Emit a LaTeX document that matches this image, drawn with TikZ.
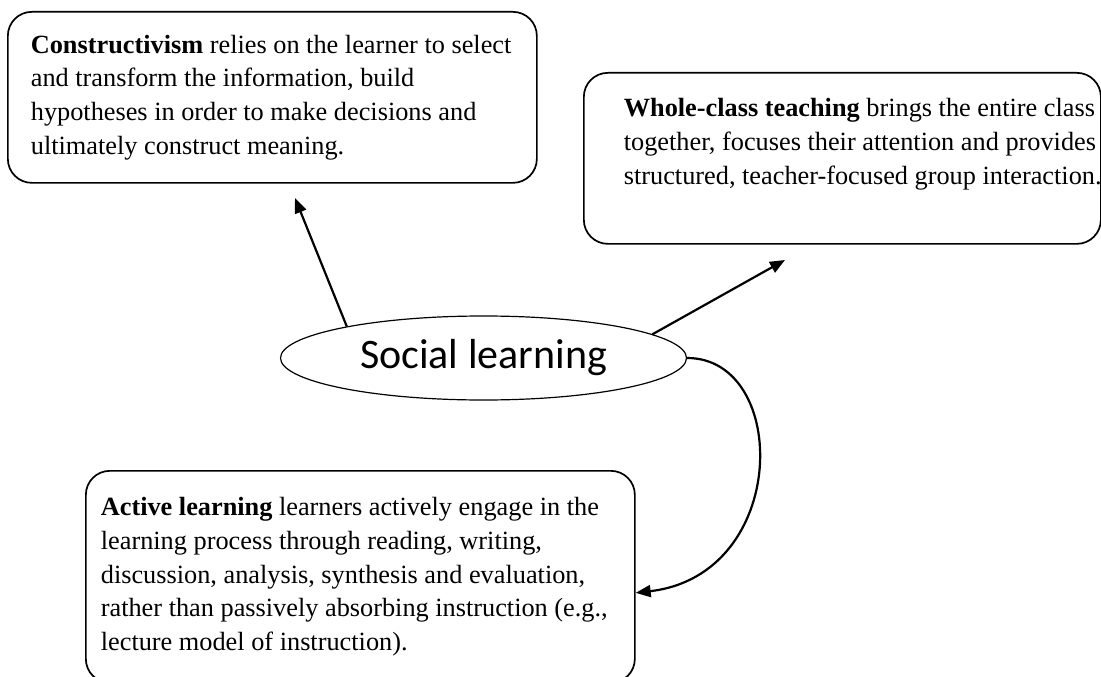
\documentclass[tikz,border=0pt]{standalone}
\usepackage{fontspec}
\setmainfont{Liberation Serif}
\newfontfamily\calibri{Carlito}
\usetikzlibrary{shapes.geometric,arrows.meta}

\begin{document}
\begin{tikzpicture}[x=1pt, y=-1pt,
  infobox/.style={draw, line width=1.7pt, rounded corners=24pt, align=flush left, anchor=north west, inner ysep=0pt, font=\fontsize{26.3}{33.75}\selectfont},
  topic/.style={draw, ellipse, line width=1.2pt, minimum width=406pt, minimum height=84pt, inner sep=0pt, font=\calibri\fontsize{42}{50}\selectfont},
  link/.style={line width=2.2pt, -{Triangle[length=15pt,width=12pt]}},
]
\useasboundingbox (0,0) rectangle (1101,677);
\node[infobox, text width=483pt, inner xsep=23pt, minimum height=171pt] (construct) at (7,11) {\textbf{Constructivism} relies on the learner to select\\
  and transform the information, build\\
  hypotheses in order to make decisions and\\
  ultimately construct meaning.};
\node[infobox, text width=437pt, inner xsep=40pt, minimum height=171pt] (whole) at (583,72) {\mbox{\textbf{Whole-class teaching} brings the entire class}\\
  \mbox{together, focuses their attention and provides}\\
  \mbox{structured, teacher-focused group interaction.}\\
  \mbox{}};
\node[infobox, text width=519pt, inner xsep=15pt, minimum height=212pt] (active) at (85,470) {\textbf{Active learning} learners actively engage in the\\
  learning process through reading, writing,\\
  discussion, analysis, synthesis and evaluation,\\
  rather than passively absorbing instruction (e.g.,\\
  lecture model of instruction).};
\node[topic] (social) at (483.5,358) {Social learning};
% Arrows
\coordinate (constructTip) at (295,198);
\coordinate (wholeTip) at (785,260);
\draw[link] (social.167) -- (constructTip);
\draw[link] (social.8) -- (wholeTip);
\draw[link] (social.east) .. controls (790,358) and (790,575) .. ([yshift=-16pt]active.east);
\end{tikzpicture}
\end{document}
